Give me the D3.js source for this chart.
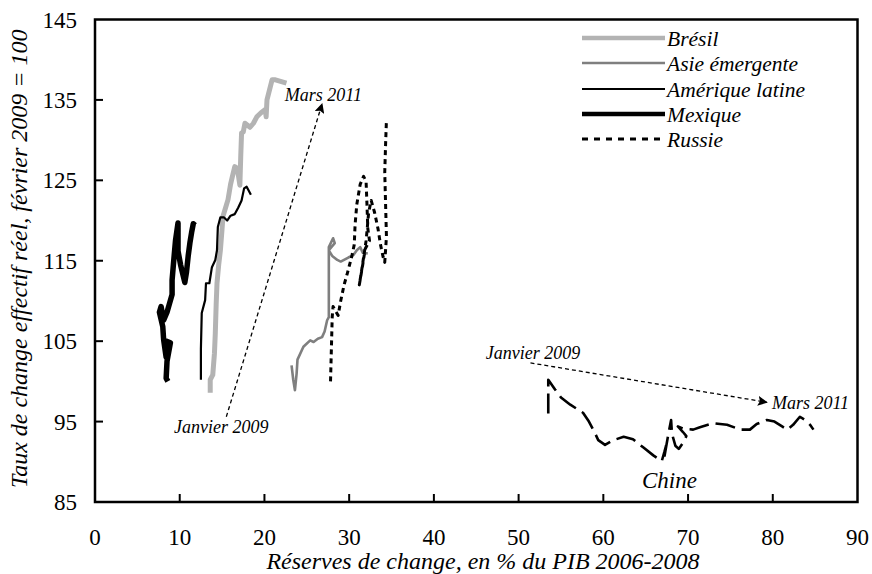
<!DOCTYPE html>
<html>
<head>
<meta charset="utf-8">
<script src="https://cdn.jsdelivr.net/npm/d3@7"></script>
<style>
  svg text { font-family: "Liberation Serif", "Tinos", "Nimbus Roman", serif !important; }
</style>
</head>
<body style="margin:0">
<div id="chart"></div>
<script>
// x = réserves de change (% du PIB 2006-2008), y = TCER (février 2009 = 100)
const bresil = [[13.6, 98.6], [13.6, 100.2], [13.9, 100.8], [14.1, 103.5], [14.2, 106.0], [14.3, 109.5], [14.4, 112.2], [14.6, 114.5], [14.8, 116.3], [15.0, 119.0], [15.1, 120.5], [15.7, 122.6], [16.0, 124.5], [16.2, 125.4], [16.5, 126.7], [16.8, 126.5], [17.1, 124.4], [17.2, 127.9], [17.3, 130.9], [17.5, 131.0], [17.7, 132.1], [18.3, 131.6], [18.7, 132.1], [19.1, 132.9], [19.6, 133.4], [20.1, 133.8], [20.2, 132.9], [20.3, 135.0], [20.9, 137.5], [21.3, 137.5], [22.6, 137.1]];
const asie = [[23.2, 102.0], [23.4, 100.2], [23.6, 98.9], [23.8, 101.0], [23.9, 102.7], [24.6, 104.3], [25.4, 105.1], [25.8, 104.9], [26.3, 105.3], [26.8, 105.5], [27.1, 106.2], [27.4, 107.6], [27.6, 108.0], [27.6, 112.2], [27.6, 114.5], [27.6, 116.7], [28.1, 117.8], [28.3, 117.2], [27.6, 116.3], [28.0, 115.6], [28.6, 115.1], [29.0, 114.9], [29.9, 115.4], [30.5, 115.7], [30.9, 116.3], [31.3, 116.7], [31.6, 116.0], [32.2, 115.9]];
const ameriqueLatine = [[12.5, 100.2], [12.5, 104.0], [12.6, 108.5], [13.0, 110.1], [13.1, 112.2], [13.5, 112.2], [13.8, 114.2], [14.2, 115.1], [14.4, 116.3], [14.5, 119.2], [14.8, 120.4], [15.2, 120.4], [15.6, 120.0], [16.0, 120.6], [16.5, 120.8], [16.9, 121.6], [17.3, 122.5], [17.6, 124.0], [17.9, 124.2], [18.4, 123.2]];
const mexique = [[8.6, 100.0], [8.4, 100.4], [8.5, 102.5], [8.9, 104.8], [8.4, 105.0], [8.4, 103.0], [8.1, 105.2], [8.0, 106.8], [7.6, 108.6], [7.8, 109.3], [8.1, 107.6], [8.5, 108.6], [9.1, 110.8], [9.1, 112.6], [9.3, 115.1], [9.5, 117.5], [9.8, 119.7], [9.8, 116.2], [10.1, 114.5], [10.6, 112.3], [10.8, 113.6], [11.0, 115.6], [11.2, 117.2], [11.4, 118.5], [11.6, 119.6], [11.8, 119.4]];
const russie = [[27.8, 100.0], [27.9, 104.0], [28.0, 108.0], [28.1, 109.3], [28.7, 108.2], [29.0, 110.0], [29.4, 112.0], [29.8, 113.5], [30.3, 115.5], [30.6, 117.0], [30.7, 119.5], [30.9, 122.0], [31.3, 124.5], [31.7, 125.5], [32.0, 124.8], [32.1, 122.0], [32.2, 119.0], [32.4, 117.5], [31.9, 116.5], [31.6, 114.5], [31.2, 112.0], [31.5, 114.0], [32.0, 117.5], [32.3, 121.0], [32.6, 122.5], [33.0, 121.0], [33.4, 119.0], [33.7, 117.0], [34.0, 115.5], [34.2, 114.8], [34.4, 118.0], [34.3, 122.0], [34.2, 126.0], [34.3, 129.5], [34.4, 132.5]];
const chine = [[53.5, 96.0], [53.5, 100.2], [54.3, 99.0], [55.0, 98.0], [56.1, 97.1], [57.6, 96.1], [58.3, 95.0], [59.0, 93.6], [59.4, 92.7], [60.2, 92.1], [61.2, 92.7], [62.4, 93.1], [63.5, 92.8], [64.7, 91.8], [65.9, 90.8], [66.9, 90.1], [67.2, 91.2], [67.4, 92.0], [67.2, 90.6], [67.6, 93.0], [68.0, 95.2], [68.1, 93.5], [68.5, 92.0], [68.9, 91.6], [69.5, 92.5], [69.8, 93.2], [69.4, 93.7], [68.8, 94.4], [69.5, 94.1], [70.6, 94.0], [71.4, 94.3], [73.0, 94.8], [74.6, 94.6], [76.2, 94.0], [77.3, 94.0], [78.1, 94.7], [79.3, 95.2], [80.2, 95.0], [81.1, 94.4], [81.7, 94.0], [82.4, 94.6], [83.2, 95.6], [83.8, 95.2], [84.4, 94.6], [84.8, 94.0]];

const xTicks = [0, 10, 20, 30, 40, 50, 60, 70, 80, 90];
const yTicks = [85, 95, 105, 115, 125, 135, 145];
const legendNames = ["Brésil", "Asie émergente", "Amérique latine", "Mexique", "Russie"];

// annotations: [x, y] in data units
const arrows = [[[15.5, 95.6], [26.8, 134.5]], [[51.4, 102.3], [79.3, 97.4]]];
const notes = [
  { text: "Mars 2011", x: 22.4, y: 134.9, anchor: "start", size: 18 },
  { text: "Janvier 2009", x: 14.9, y: 93.6, anchor: "middle", size: 18 },
  { text: "Janvier 2009", x: 51.7, y: 102.8, anchor: "middle", size: 18 },
  { text: "Mars 2011", x: 79.9, y: 96.6, anchor: "start", size: 18 },
  { text: "Chine", x: 67.8, y: 86.7, anchor: "middle", size: 23 }
];

const W = 872, H = 574;
const margin = { left: 95, right: 857.5, top: 19.5, bottom: 502 };
const fontFam = "Liberation Serif";

const svg = d3.select("#chart").append("svg").attr("width", W).attr("height", H)
  .style("font-family", `"${fontFam}"`);

const xs = d3.scaleLinear().domain([0, 90]).range([margin.left, margin.right]);
const ys = d3.scaleLinear().domain([85, 145]).range([margin.bottom, margin.top]);

const series = [
  { name: "Brésil", data: bresil, color: "#b3b3b3", w: 5, dash: null },
  { name: "Asie émergente", data: asie, color: "#7f7f7f", w: 2.6, dash: null },
  { name: "Amérique latine", data: ameriqueLatine, color: "#000", w: 2.2, dash: null },
  { name: "Mexique", data: mexique, color: "#000", w: 5.5, dash: null },
  { name: "Russie", data: russie, color: "#000", w: 3, dash: "5,4" },
  { name: "Chine", data: chine, color: "#000", w: 2.6, dash: "20,7" }
];

const lineGen = d3.line().x(d => xs(d[0])).y(d => ys(d[1]));

function label(sel, size, italic) {
  return sel.attr("font-size", size)
    .style("font-family", `"${fontFam}"`)
    .style("font-style", italic ? "italic" : "normal");
}

// frame + ticks
const g = svg.append("g");
g.append("rect").attr("x", margin.left).attr("y", margin.top)
  .attr("width", margin.right - margin.left).attr("height", margin.bottom - margin.top)
  .attr("fill", "none").attr("stroke", "#000").attr("stroke-width", 2.5);

g.selectAll(".xt").data(xTicks.slice(1, -1)).join("line")
  .attr("x1", d => xs(d)).attr("x2", d => xs(d)).attr("y1", margin.bottom).attr("y2", margin.bottom - 8)
  .attr("stroke", "#000").attr("stroke-width", 2);
g.selectAll(".yt").data(yTicks.slice(1, -1)).join("line")
  .attr("x1", margin.left).attr("x2", margin.left + 8).attr("y1", d => ys(d)).attr("y2", d => ys(d))
  .attr("stroke", "#000").attr("stroke-width", 2);

xTicks.forEach(v => {
  label(svg.append("text"), 23, false)
    .attr("x", xs(v)).attr("y", margin.bottom + 43).attr("text-anchor", "middle").text(v);
});
yTicks.forEach(v => {
  label(svg.append("text"), 23, false)
    .attr("x", margin.left - 18).attr("y", ys(v) + 8).attr("text-anchor", "end").text(v);
});

label(svg.append("text"), 24, true)
  .attr("x", 483).attr("y", 569).attr("text-anchor", "middle")
  .text("Réserves de change, en % du PIB 2006-2008");
label(svg.append("text"), 24, true)
  .attr("transform", `translate(27, ${(margin.top + margin.bottom) / 2 - 2}) rotate(-90)`)
  .attr("text-anchor", "middle")
  .text("Taux de change effectif réel, février 2009 = 100");

// series
series.forEach(s => {
  svg.append("path")
    .attr("d", lineGen(s.data))
    .attr("fill", "none")
    .attr("stroke", s.color)
    .attr("stroke-width", s.w)
    .attr("stroke-dasharray", s.dash)
    .attr("stroke-linejoin", "round");
});

// arrows
svg.append("defs").append("marker").attr("id", "head")
  .attr("viewBox", "0 0 10 10").attr("refX", 9).attr("refY", 5)
  .attr("markerWidth", 10).attr("markerHeight", 10).attr("markerUnits", "userSpaceOnUse")
  .attr("orient", "auto")
  .append("path").attr("d", "M0,0 L10,5 L0,10 L2,5 Z").attr("fill", "#000");

arrows.forEach(a => {
  svg.append("line")
    .attr("x1", xs(a[0][0])).attr("y1", ys(a[0][1]))
    .attr("x2", xs(a[1][0])).attr("y2", ys(a[1][1]))
    .attr("stroke", "#000").attr("stroke-width", 1.3).attr("stroke-dasharray", "4,3")
    .attr("marker-end", "url(#head)");
});

notes.forEach(n => {
  label(svg.append("text"), n.size, true)
    .attr("x", xs(n.x)).attr("y", ys(n.y)).attr("text-anchor", n.anchor).text(n.text);
});

// legend
const legY = [38, 63, 89, 114, 139];
legendNames.forEach((name, i) => {
  const s = series.find(d => d.name === name);
  svg.append("line").attr("x1", 582).attr("x2", 665).attr("y1", legY[i]).attr("y2", legY[i])
    .attr("stroke", s.color).attr("stroke-width", Math.min(s.w, 4.5))
    .attr("stroke-dasharray", s.dash ? "6,6" : null);
  label(svg.append("text"), 21.5, true)
    .attr("x", 667).attr("y", legY[i] + 8).text(name);
});
</script>
</body>
</html>
